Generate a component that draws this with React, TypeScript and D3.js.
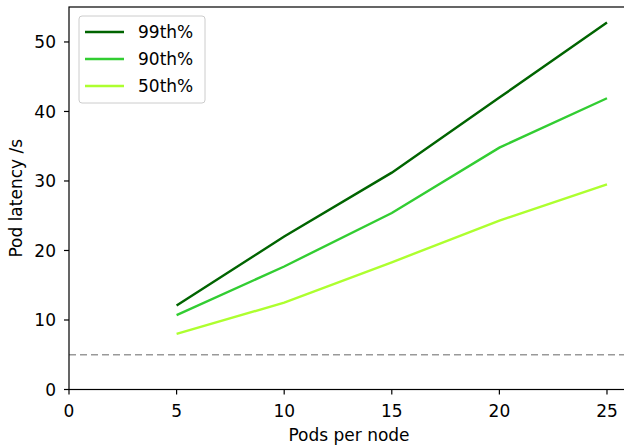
import React from "react";
import * as d3 from "d3";

const podsPerNode = [5, 10, 15, 20, 25];
const p99 = [12.1, 22.0, 31.2, 42.0, 52.8];
const p90 = [10.7, 17.7, 25.4, 34.8, 41.9];
const p50 = [8.0, 12.5, 18.3, 24.3, 29.5];
const seriesNames = ["99th%", "90th%", "50th%"];
const seriesColors = ["#006400", "#32cd32", "#adff2f"];
const xTicks = [0, 5, 10, 15, 20, 25];
const yTicks = [0, 10, 20, 30, 40, 50];
const threshold = 5;

const W = 624, H = 446;
const left = 69, right = 628.5, top = 7, bottom = 389.5;

export default function App() {
  const x = d3.scaleLinear().domain([0, 26]).range([left, right]);
  const y = d3.scaleLinear().domain([0, 55.03]).range([bottom, top]);
  const series = [p99, p90, p50];
  const line = d3
    .line<[number, number]>()
    .x((d) => x(d[0]))
    .y((d) => y(d[1]));
  const font = "DejaVu Sans, sans-serif";
  const fs = 17;
  return (
    <svg
      width={W}
      height={H}
      style={{ position: "absolute", left: 0, top: 0, background: "#fff" }}
      fontFamily={font}
    >
      <rect x={0} y={0} width={W} height={H} fill="#fff" />
      <line
        x1={x(0)}
        x2={right}
        y1={y(threshold)}
        y2={y(threshold)}
        stroke="#999"
        strokeWidth={1.7}
        strokeDasharray="7,4"
      />
      {series.map((s, i) => (
        <path
          key={i}
          d={line(podsPerNode.map((p, j) => [p, s[j]] as [number, number])) || ""}
          fill="none"
          stroke={seriesColors[i]}
          strokeWidth={2.4}
        />
      ))}
      <rect
        x={left}
        y={top}
        width={right - left}
        height={bottom - top}
        fill="none"
        stroke="#000"
        strokeWidth={1.2}
      />
      {xTicks.map((t) => (
        <g key={t} transform={`translate(${x(t)},${bottom})`}>
          <line y1={0} y2={5} stroke="#000" strokeWidth={1.2} />
          <text y={27.5} textAnchor="middle" fontSize={fs} fill="#000">
            {t}
          </text>
        </g>
      ))}
      {yTicks.map((t) => (
        <g key={t} transform={`translate(${left},${y(t)})`}>
          <line x1={0} x2={-5} stroke="#000" strokeWidth={1.2} />
          <text x={-13} dy="0.36em" textAnchor="end" fontSize={fs} fill="#000">
            {t}
          </text>
        </g>
      ))}
      <text x={349} y={441} textAnchor="middle" fontSize={fs} fill="#000">
        Pods per node
      </text>
      <text
        transform={`translate(22,${(top + bottom) / 2}) rotate(-90)`}
        textAnchor="middle"
        fontSize={fs}
        fill="#000"
      >
        Pod latency /s
      </text>
      <rect
        x={79}
        y={16}
        width={126}
        height={87}
        rx={3}
        fill="#fff"
        fillOpacity={0.8}
        stroke="#ccc"
        strokeWidth={1}
      />
      {seriesNames.map((n, i) => (
        <g key={n} transform={`translate(85,${32 + i * 27})`}>
          <line x1={0} x2={39} y1={0} y2={0} stroke={seriesColors[i]} strokeWidth={2.4} />
          <text x={53} dy="0.36em" fontSize={fs} fill="#000">
            {n}
          </text>
        </g>
      ))}
    </svg>
  );
}
